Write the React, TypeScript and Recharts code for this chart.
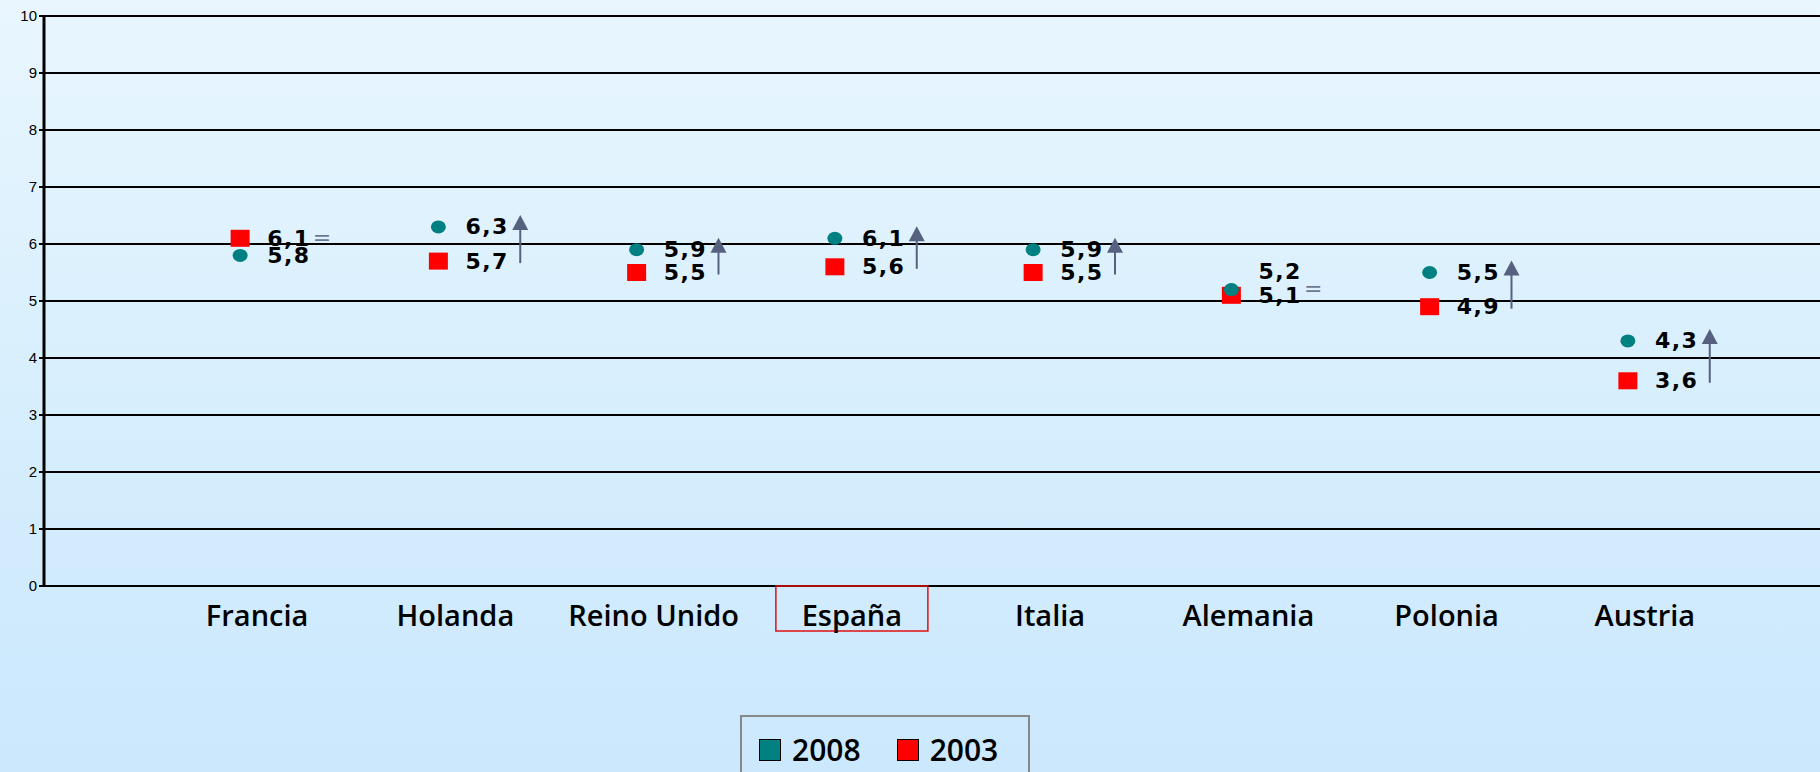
import {
  ComposedChart,
  Line,
  Bar,
  XAxis,
  YAxis,
  CartesianGrid,
  Legend,
  LabelList,
} from "recharts";

const countries = [
  "Francia",
  "Holanda",
  "Reino Unido",
  "España",
  "Italia",
  "Alemania",
  "Polonia",
  "Austria",
];
const values2008 = [5.8, 6.3, 5.9, 6.1, 5.9, 5.2, 5.5, 4.3];
const values2003 = [6.1, 5.7, 5.5, 5.6, 5.5, 5.1, 4.9, 3.6];
// "=" means no change, "up" an arrow pointing up
const trends = ["=", "up", "up", "up", "up", "=", "up", "up"];
const yTicks = [0, 1, 2, 3, 4, 5, 6, 7, 8, 9, 10];
const highlighted = "España";

const TEAL = "#008080";
const RED = "#ff0000";
const ARROW = "#56617f";
const LABEL_FONT = "'DejaVu Sans', Verdana, sans-serif";
const AXIS_FONT = "'Open Sans', 'DejaVu Sans', sans-serif";

const data = countries.map((name, i) => ({
  name,
  v2008: values2008[i],
  v2003: values2003[i],
  trend: trends[i],
}));

const fmt = (v: number) => v.toFixed(1).replace(".", ",");

function CountryTick({ x, y, payload }: any) {
  const cx = x + 17;
  const hi = payload.value === highlighted;
  return (
    <g>
      {hi && (
        <rect
          x={cx - 76}
          y={y}
          width={152}
          height={45}
          fill="none"
          stroke="#e01010"
          strokeWidth={1.5}
        />
      )}
      <text
        x={cx}
        y={y + 28}
        textAnchor="middle"
        dominantBaseline="central"
        fontSize={29}
        fontWeight={600}
        fontFamily={AXIS_FONT}
        fill="#000"
      >
        {payload.value}
      </text>
    </g>
  );
}

function TrendMark(props: any) {
  const { x, y, width, height, payload } = props;
  const cx = x + width / 2 + 82;
  if (payload.trend === "=") {
    return (
      <text
        x={cx}
        y={y - 1}
        textAnchor="middle"
        dominantBaseline="central"
        fontSize={22}
        fontFamily={LABEL_FONT}
        fill="#6b7896"
      >
        =
      </text>
    );
  }
  const top = y - 12;
  const bottom = y + height + 2;
  return (
    <g>
      <line x1={cx} x2={cx} y1={bottom} y2={top + 12} stroke={ARROW} strokeWidth={2} />
      <polygon
        points={`${cx},${top} ${cx - 8},${top + 15} ${cx + 8},${top + 15}`}
        fill={ARROW}
      />
    </g>
  );
}

const circleDot = (p: any) => (
  <ellipse key={`c-${p.index}`} cx={p.cx} cy={p.cy} rx={7.5} ry={6.5} fill={TEAL} />
);

const squareDot = (p: any) => (
  <rect
    key={`s-${p.index}`}
    x={p.cx - 9.5}
    y={p.cy - 8.5}
    width={19}
    height={17}
    fill={RED}
  />
);

function valueLabel(series: "2008" | "2003") {
  return (p: any) => {
    const i = p.index;
    let dy = 0;
    // lift the 2008 label when it would sit on top of the 2003 one
    if (series === "2008") {
      const diff = values2008[i] - values2003[i];
      if (diff > 0 && diff < 0.15) dy = -18;
    }
    return (
      <text
        key={`l-${series}-${i}`}
        x={p.x + 27}
        y={p.y + dy}
        dominantBaseline="central"
        fontSize={22}
        fontWeight="bold"
        letterSpacing={1.5}
        fontFamily={LABEL_FONT}
        fill="#000"
      >
        {fmt(p.value)}
      </text>
    );
  };
}

function LegendBox() {
  const item = (color: string, label: string) => (
    <div style={{ display: "flex", alignItems: "center", gap: 11, height: 30 }}>
      <span
        style={{
          width: 22,
          height: 22,
          background: color,
          border: "1.5px solid #000",
          boxSizing: "border-box",
        }}
      />
      <span style={{ fontSize: 30, fontWeight: 600, fontFamily: AXIS_FONT, lineHeight: "30px" }}>
        {label}
      </span>
    </div>
  );
  return (
    <div
      style={{
        position: "absolute",
        left: 740,
        top: 715,
        width: 290,
        height: 80,
        border: "2px solid #888",
        boxSizing: "border-box",
        display: "flex",
        alignItems: "flex-start",
        gap: 36,
        padding: "18px 0 0 17px",
      }}
    >
      {item(TEAL, "2008")}
      {item(RED, "2003")}
    </div>
  );
}

export default function App() {
  return (
    <div
      style={{
        position: "absolute",
        left: 0,
        top: 0,
        width: 1820,
        height: 772,
        overflow: "hidden",
        background: "linear-gradient(180deg, #e9f6fe 0%, #d6eefd 55%, #cbe8fd 100%)",
      }}
    >
      <ComposedChart
        width={1820}
        height={772}
        data={data}
        margin={{ top: 16, right: 0, left: 0, bottom: 126 }}
      >
        <CartesianGrid vertical={false} stroke="#000" strokeWidth={2} />
        <XAxis
          dataKey="name"
          type="category"
          padding={{ left: 97, right: 93 }}
          height={60}
          tickLine={false}
          tickSize={0}
          tickMargin={0}
          axisLine={{ stroke: "#000", strokeWidth: 2 }}
          tick={<CountryTick />}
          interval={0}
        />
        <YAxis
          type="number"
          domain={[0, 10]}
          ticks={yTicks}
          interval={0}
          width={44}
          tickSize={5}
          axisLine={{ stroke: "#000", strokeWidth: 3 }}
          tickLine={{ stroke: "#000", strokeWidth: 2 }}
          tick={{ fill: "#000", fontSize: 15, fontFamily: "'Liberation Sans', Arial, sans-serif" }}
        />
        <Bar
          dataKey={(d: any) => [Math.min(d.v2003, d.v2008), Math.max(d.v2003, d.v2008)]}
          barSize={2}
          shape={<TrendMark />}
          legendType="none"
          isAnimationActive={false}
        />
        <Line
          dataKey="v2003"
          name="2003"
          stroke="none"
          dot={squareDot}
          activeDot={false}
          isAnimationActive={false}
        >
          <LabelList dataKey="v2003" content={valueLabel("2003")} />
        </Line>
        <Line
          dataKey="v2008"
          name="2008"
          stroke="none"
          dot={circleDot}
          activeDot={false}
          isAnimationActive={false}
        >
          <LabelList dataKey="v2008" content={valueLabel("2008")} />
        </Line>
        <Legend
          content={() => <LegendBox />}
          wrapperStyle={{ left: 0, top: 0, bottom: "auto", width: 0, height: 0 }}
        />
      </ComposedChart>
    </div>
  );
}
